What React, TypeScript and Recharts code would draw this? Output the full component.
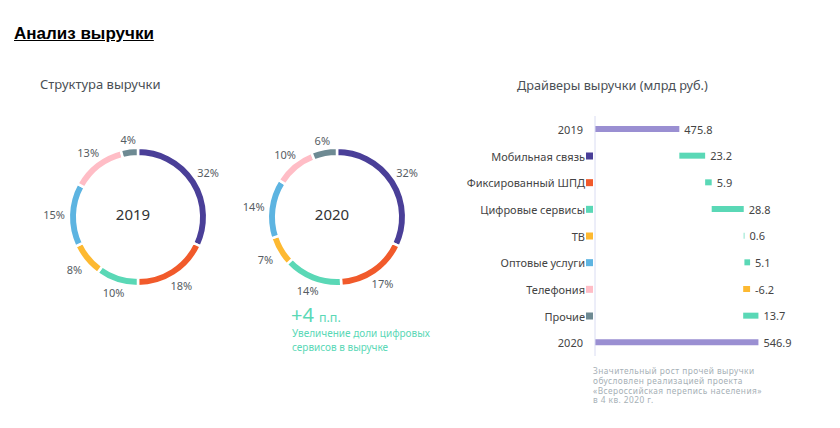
import React from 'react';
import { PieChart, Pie, Cell, BarChart, Bar, XAxis, YAxis, LabelList } from 'recharts';

const SEGMENT_NAMES = ['Мобильная связь', 'Фиксированный ШПД', 'Цифровые сервисы', 'ТВ', 'Оптовые услуги', 'Телефония', 'Прочие'];
const SEGMENT_COLORS = ['#4a3f98', '#f15a2b', '#5ad8b6', '#fdb931', '#5db4e1', '#ffbdc6', '#6e8a93'];
const SHARE_2019 = [32, 18, 10, 8, 15, 13, 4];
const SHARE_2020 = [32, 17, 14, 7, 14, 10, 6];

const TOTAL_NAMES = ['2019', '2020'];
const REVENUE_TOTALS = [475.8, 546.9];
const DRIVER_DELTAS = [23.2, 5.9, 28.8, 0.6, 5.1, -6.2, 13.7];
const AXIS_MIN = 400;
const AXIS_MAX = 560;

const FOOTNOTE_LINES = [
  'Значительный рост прочей выручки',
  'обусловлен реализацией проекта',
  '«Всероссийская перепись населения»',
  'в 4 кв. 2020 г.',
];

const TOTAL_COLOR = '#9a8fd2';
const UP_COLOR = '#5ad8b6';
const DOWN_COLOR = '#fdb931';
const FONT = '"Noto Sans", Roboto, sans-serif';

type Row = { name: string; range: [number, number]; color: string; marker: string | null; label: string };

const waterfall: Row[] = (() => {
  const rows: Row[] = [];
  rows.push({ name: TOTAL_NAMES[0], range: [AXIS_MIN, REVENUE_TOTALS[0]], color: TOTAL_COLOR, marker: null, label: String(REVENUE_TOTALS[0]) });
  let run = REVENUE_TOTALS[0];
  DRIVER_DELTAS.forEach((d, i) => {
    const s = run;
    run = Math.round((run + d) * 10) / 10;
    rows.push({
      name: SEGMENT_NAMES[i],
      range: [Math.min(s, run), Math.max(s, run)],
      color: d >= 0 ? UP_COLOR : DOWN_COLOR,
      marker: SEGMENT_COLORS[i],
      label: d.toFixed(1),
    });
  });
  rows.push({ name: TOTAL_NAMES[1], range: [AXIS_MIN, REVENUE_TOTALS[1]], color: TOTAL_COLOR, marker: null, label: String(REVENUE_TOTALS[1]) });
  return rows;
})();

const pieData = (shares: number[]) => SEGMENT_NAMES.map((n, i) => ({ name: n, value: shares[i], color: SEGMENT_COLORS[i] }));

const RAD = Math.PI / 180;
const LABEL_BASE_R = 68;
const renderPieLabel = (p: any) => {
  const { cx, cy, midAngle, value } = p;
  const c = Math.cos(-midAngle * RAD);
  const s = Math.sin(-midAngle * RAD);
  const r = LABEL_BASE_R + 9 + 7 * Math.abs(c);
  return (
    <text x={cx + r * c} y={cy + r * s} textAnchor="middle" dominantBaseline="central" fill="#565d63" fontSize={11} fontFamily={FONT}>
      {value}%
    </text>
  );
};

const Donut = ({ shares, year, left, top }: { shares: number[]; year: string; left: number; top: number }) => (
  <div style={{ position: 'absolute', left, top, width: 200, height: 200 }}>
    <PieChart width={200} height={200}>
      <Pie
        data={pieData(shares)}
        dataKey="value"
        cx={100}
        cy={100}
        innerRadius={60.8}
        outerRadius={69.2}
        startAngle={90}
        endAngle={-270}
        stroke="#ffffff"
        strokeWidth={2.5}
        label={renderPieLabel}
        labelLine={false}
        isAnimationActive={false}
      >
        {shares.map((_, i) => (
          <Cell key={i} fill={SEGMENT_COLORS[i]} />
        ))}
      </Pie>
      <text x={100} y={101.5} textAnchor="middle" dominantBaseline="central" fontSize={15} fill="#333" fontFamily={FONT}>
        {year}
      </text>
    </PieChart>
  </div>
);

const DriverTick = (props: any) => {
  const { x, y, payload } = props;
  const row = waterfall.find((r) => r.name === payload.value);
  const marker = row ? row.marker : null;
  return (
    <g>
      <text x={marker ? x - 10 : x - 12} y={y} textAnchor="end" dominantBaseline="central" fontSize={11} fill="#444" fontFamily={FONT}>
        {payload.value}
      </text>
      {marker && <rect x={x - 9} y={y - 3.5} width={7} height={7} fill={marker} />}
    </g>
  );
};

const renderBarLabel = (p: any) => {
  const { x, y, width, height, index } = p;
  return (
    <text x={x + width + 5} y={y + height / 2} dominantBaseline="central" fontSize={11} fill="#444" fontFamily={FONT}>
      {waterfall[index].label}
    </text>
  );
};

export default function App() {
  return (
    <div style={{ position: 'absolute', left: 0, top: 0, width: 840, height: 428, background: '#fff', overflow: 'hidden', fontFamily: FONT }}>
      <div style={{ position: 'absolute', left: 14, top: 24, fontFamily: '"Liberation Sans", Arial, sans-serif', fontWeight: 700, fontSize: 17, textDecoration: 'underline', color: '#000' }}>
        Анализ выручки
      </div>
      <div style={{ position: 'absolute', left: 40, top: 75, fontSize: 13, color: '#4a4f55' }}>Структура выручки</div>
      <div style={{ position: 'absolute', left: 517, top: 76, fontSize: 12.7, color: '#4a4f55' }}>Драйверы выручки (млрд руб.)</div>

      <Donut shares={SHARE_2019} year="2019" left={33} top={112} />
      <Donut shares={SHARE_2020} year="2020" left={232} top={112} />

      <div style={{ position: 'absolute', left: 291, top: 301, color: '#5ad8b6', whiteSpace: 'nowrap' }}>
        <span style={{ fontSize: 20 }}>+4</span>
        <span style={{ fontSize: 12.5, marginLeft: 5 }}>п.п.</span>
      </div>
      <div style={{ position: 'absolute', left: 292, top: 326, color: '#5ad8b6', fontSize: 10, lineHeight: '14px', whiteSpace: 'nowrap' }}>
        Увеличение доли цифровых
        <br />
        сервисов в выручке
      </div>

      <div style={{ position: 'absolute', left: 460, top: 106 }}>
        <BarChart width={373} height={260} data={waterfall} layout="vertical" margin={{ top: 10, right: 60, bottom: 10, left: 0 }} barSize={6}>
          <XAxis type="number" domain={[AXIS_MIN, AXIS_MAX]} hide allowDataOverflow />
          <YAxis
            type="category"
            dataKey="name"
            width={135}
            tickSize={0}
            tickMargin={0}
            tickLine={false}
            axisLine={{ stroke: '#d9dcf2' }}
            tick={<DriverTick />}
            interval={0}
          />
          <Bar dataKey="range" isAnimationActive={false}>
            {waterfall.map((r, i) => (
              <Cell key={i} fill={r.color} />
            ))}
            <LabelList dataKey="label" content={renderBarLabel} />
          </Bar>
        </BarChart>
      </div>

      {FOOTNOTE_LINES.map((line, i) => (
        <div
          key={i}
          style={{
            position: 'absolute',
            left: 593,
            top: 366 + i * 9.8,
            color: '#a6b0b6',
            fontSize: 8.3,
            lineHeight: '9px',
            letterSpacing: '0.45px',
            whiteSpace: 'nowrap',
          }}
        >
          {line}
        </div>
      ))}
    </div>
  );
}
